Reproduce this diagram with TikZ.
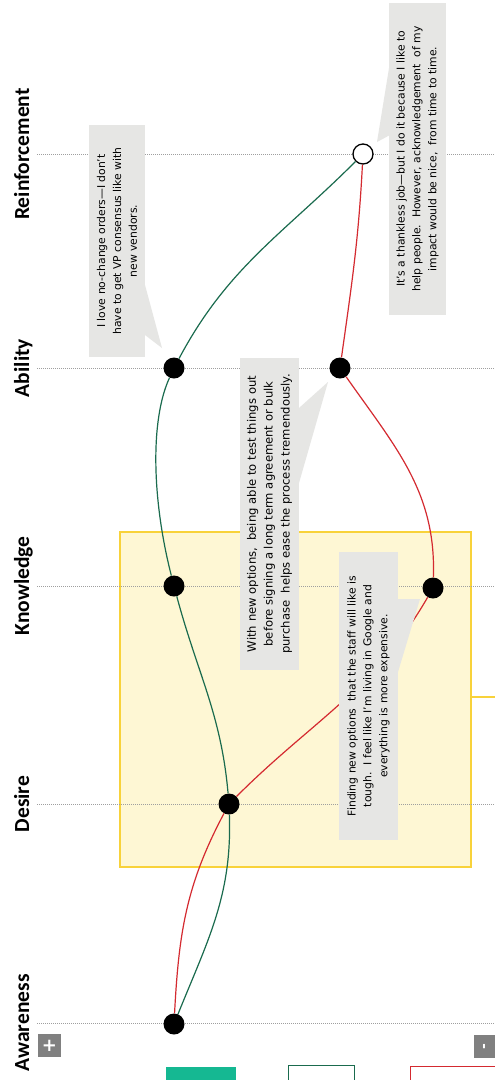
\documentclass[tikz,border=0pt]{standalone}
\usepackage{fontspec}
\newfontfamily\stagefont{Carlito}
\newfontfamily\notefont{DejaVu Sans}
\usetikzlibrary{positioning}
\definecolor{pathgreen}{HTML}{1A6B4E}
\definecolor{pathred}{HTML}{D42A30}
\definecolor{notegrey}{HTML}{E6E6E4}
\definecolor{zonefill}{HTML}{FEF7D4}
\definecolor{zoneline}{HTML}{F8D23A}
\definecolor{keyteal}{HTML}{15B892}
\definecolor{btngrey}{HTML}{808080}

\begin{document}
\begin{tikzpicture}[x=1pt,y=1pt,
	stagelabel/.style={rotate=90, anchor=base, inner sep=0pt, font=\stagefont\bfseries\fontsize{21.5}{24}\selectfont},
	stageline/.style={gray!75, line width=0.8pt, dash pattern=on 0.9pt off 1.1pt},
	stagedot/.style={circle, fill=black, minimum size=21pt, inner sep=0pt},
	enddot/.style={circle, draw=black, fill=white, line width=1.3pt, minimum size=20pt, inner sep=0pt},
	notebox/.style={rotate=90, fill=notegrey, inner sep=0pt, align=center, font=\notefont\fontsize{10.8}{15.8}\selectfont},
	greenpath/.style={pathgreen, line width=1.2pt},
	redpath/.style={pathred, line width=1.2pt},
	keybox/.style={anchor=north west, minimum height=30pt, inner sep=0pt, line width=1.3pt}]
		\useasboundingbox (0,0) rectangle (495,-1080);
		\clip (0,0) rectangle (495,-1080);
		\fill[white] (0,0) rectangle (495,-1080);

		\node[fill=zonefill, draw=zoneline, line width=1.5pt, anchor=north west, minimum width=351pt, minimum height=335pt, inner sep=0pt] (zone) at (119,-531) {};
		\coordinate (zonetail) at (497,-697);
		\draw[zoneline, line width=1.5pt] (zone.east |- zonetail) -- (zonetail);

		\foreach \name/\ypos/\lab in {reinf/154/Reinforcement, abil/368/Ability, know/586/Knowledge, desire/804/Desire, aware/1023/Awareness} {
			\node[stagelabel] (\name) at (29,-\ypos) {\lab};
			\coordinate (\name-a) at (37,-\ypos);
			\coordinate (\name-b) at (497,-\ypos);
			\draw[stageline] (\name-a) -- (\name-b);
		}

		\node[stagedot] (aw) at (174,-1024) {};
		\node[stagedot] (de) at (229,-804) {};
		\node[stagedot] (kg) at (174,-586) {};
		\node[stagedot] (kr) at (433,-588) {};
		\node[stagedot] (ag) at (174,-368) {};
		\node[stagedot] (ar) at (340,-368) {};
		\node[enddot] (re) at (363,-154) {};

		\draw[greenpath] (aw) to[out=68,in=-88] (de) to[out=95,in=-75] (kg) .. controls (152,-500) and (150,-420) .. (ag) to[out=62,in=-135] (re);
		\draw[redpath] (aw) to[out=87,in=-118] (de) to[out=45,in=-120] (kr) to[out=88,in=-55] (ar) to[out=82,in=-93] (re);

		\node[notebox, minimum width=232pt, minimum height=56pt] (lovenote) at (117,-241) {I love no-change orders—I don’t\\have to get VP consensus like with\\new vendors.};
		\fill[notegrey] (145,-285) -- (162,-348) -- (145,-335) -- cycle;

		\node[notebox, minimum width=312pt, minimum height=57pt] (thanknote) at (417.5,-159) {It’s a thankless job—but I do it because I like to\\help people.\ \ However, acknowledgement\ \ of my\\impact would be nice,\ \ from time to time.};
		\fill[notegrey] (390,-62) -- (377,-142) -- (390,-135) -- cycle;

		\node[notebox, minimum width=312pt, minimum height=59pt, font=\notefont\fontsize{11.6}{16.8}\selectfont] (testnote) at (269.5,-514) {With new options,\ \ being able to test things out\\before signing a long term agreement or bulk\\purchase\ \ helps ease the process tremendously.};
		\fill[notegrey] (299,-408) -- (328,-382) -- (299,-483) -- cycle;

		\node[notebox, minimum width=288pt, minimum height=59pt] (findnote) at (368.5,-696) {Finding new options\ \ that the staff will like is\\tough.\ \ I feel like I’m living in Google and\\everything is more expensive.};
		\fill[notegrey] (398,-599) -- (420,-599) -- (398,-672) -- cycle;

		\node[fill=btngrey, minimum size=23pt, inner sep=0pt, text=white, font=\notefont\bfseries\fontsize{18}{18}\selectfont] (zoomin) at (49.5,-1045.5) {+};
		\node[fill=btngrey, minimum size=23pt, inner sep=0pt, text=white, rotate=90, font=\notefont\bfseries\fontsize{14}{14}\selectfont] (zoomout) at (485.5,-1046.5) {-};

		\node[keybox, fill=keyteal, minimum width=70pt] (keyone) at (165,-1066) {};
		\node[keybox, draw=pathgreen, fill=white, minimum width=66pt] (keytwo) at (288,-1065) {};
		\node[keybox, draw=pathred, fill=white, minimum width=100pt] (keythree) at (410,-1066) {};
	\end{tikzpicture}
\end{document}
